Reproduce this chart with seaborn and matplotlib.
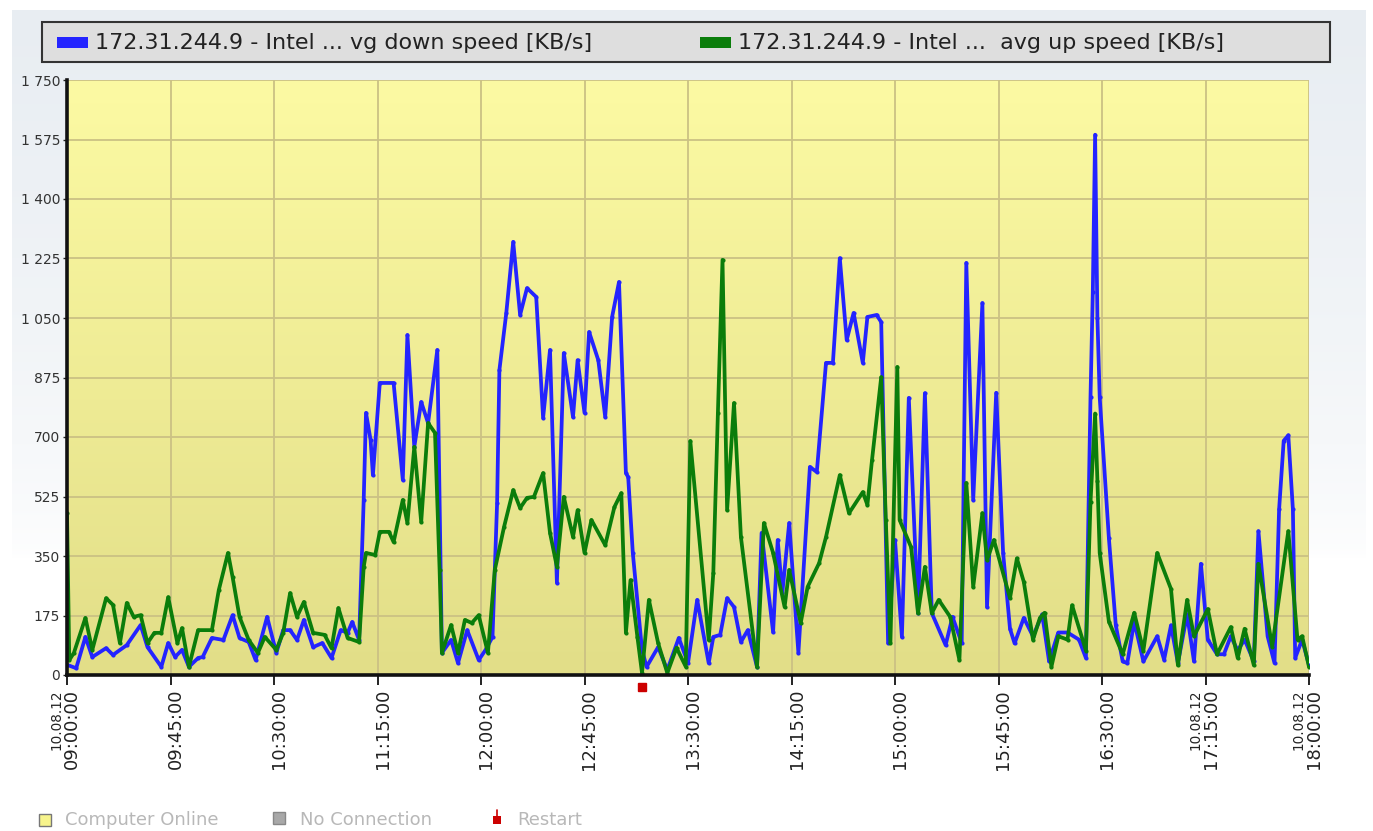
import numpy as np
import pandas as pd
import seaborn as sns
import matplotlib.pyplot as plt
import matplotlib.transforms as mtransforms
from matplotlib.colors import LinearSegmentedColormap
from matplotlib.lines import Line2D
from matplotlib.patches import Rectangle

# minutes after 09:00 on 10.08.12, speed in KB/s
down_min = [0, 4, 8, 11, 17, 20, 26, 32, 35, 41, 44, 47, 50, 53, 57, 59, 63, 68, 72, 75,
            79, 82, 87, 91, 94, 97, 100, 103, 107, 111, 115, 119, 122, 124, 127, 129, 130, 132, 133, 136,
            142, 146, 148, 151, 154, 157, 161, 163, 167, 170, 174, 179, 182, 185, 187, 188, 191, 194, 197, 200,
            204, 207, 210, 213, 216, 220, 222, 225, 227, 231, 234, 237, 240, 243, 244, 246, 250, 252, 257, 261,
            266, 270, 274, 279, 281, 284, 287, 290, 293, 296, 300, 302, 307, 309, 311, 314, 318, 323, 326, 330,
            333, 336, 339, 342, 346, 348, 352, 354, 357, 360, 363, 366, 370, 373, 376, 382, 385, 389, 391, 394,
            398, 400, 404, 407, 410, 412, 416, 420, 424, 427, 431, 435, 440, 443, 445, 446, 447, 448, 449, 453,
            456, 459, 461, 464, 468, 474, 477, 480, 483, 487, 490, 493, 496, 500, 503, 506, 509, 512, 516, 518,
            522, 525, 527, 529, 531, 533, 534, 537, 540]
down_kbs = [30, 20, 112, 53, 79, 59, 88, 147, 82, 24, 94, 53, 74, 24, 50, 53, 109, 103, 176, 109,
            97, 44, 171, 65, 132, 132, 103, 162, 82, 94, 50, 132, 124, 156, 103, 515, 771, 691, 588, 859,
            859, 574, 1000, 671, 803, 741, 956, 65, 103, 35, 132, 44, 74, 112, 506, 897, 1065, 1274, 1059, 1138,
            1112, 756, 956, 271, 947, 759, 926, 771, 1009, 926, 759, 1053, 1156, 594, 582, 359, 74, 24, 82, 15,
            109, 35, 221, 35, 112, 118, 226, 200, 97, 132, 24, 418, 126, 397, 241, 447, 65, 612, 597, 918,
            918, 1226, 985, 1065, 918, 1053, 1059, 1038, 94, 397, 112, 815, 182, 829, 182, 88, 171, 94, 1212, 515,
            1094, 200, 830, 359, 136, 93, 168, 114, 178, 40, 125, 125, 104, 50, 817, 1126, 1589, 1051, 817, 402,
            146, 40, 35, 157, 40, 114, 45, 146, 35, 178, 40, 327, 104, 61, 61, 114, 72, 104, 40, 423,
            114, 35, 487, 689, 705, 487, 50, 104, 29]

up_min = [0, 1, 3, 8, 11, 17, 20, 23, 26, 29, 32, 35, 38, 41, 44, 48, 50, 53, 57, 63,
          66, 70, 72, 75, 79, 83, 86, 91, 94, 97, 100, 103, 107, 112, 115, 118, 122, 127, 129, 130,
          134, 136, 140, 142, 146, 148, 151, 154, 157, 160, 162, 163, 167, 170, 173, 176, 179, 183, 186, 190,
          194, 197, 200, 203, 207, 210, 213, 216, 220, 222, 225, 228, 234, 238, 241, 243, 245, 248, 250, 253,
          257, 261, 265, 269, 271, 279, 281, 283, 285, 287, 290, 293, 300, 303, 307, 312, 314, 319, 322, 327,
          330, 336, 340, 346, 348, 350, 354, 356, 358, 361, 362, 367, 370, 373, 376, 379, 384, 388, 391, 394,
          398, 400, 403, 410, 413, 416, 420, 423, 425, 428, 431, 435, 437, 443, 445, 447, 448, 449, 453, 459,
          464, 468, 474, 480, 483, 487, 490, 496, 500, 506, 509, 512, 516, 518, 524, 531, 535, 537, 540]
up_kbs = [476, 44, 65, 168, 74, 226, 206, 94, 212, 171, 176, 94, 124, 124, 229, 94, 138, 24, 132, 132,
          250, 359, 288, 171, 103, 65, 112, 74, 124, 241, 171, 215, 124, 118, 79, 197, 109, 97, 318, 359,
          353, 421, 421, 391, 515, 447, 671, 450, 741, 712, 309, 65, 147, 65, 162, 153, 176, 65, 309, 435,
          544, 491, 521, 524, 594, 418, 318, 524, 406, 485, 359, 456, 382, 494, 535, 124, 279, 112, 6, 221,
          94, 6, 80, 25, 688, 103, 300, 771, 1221, 485, 800, 406, 24, 447, 359, 200, 309, 153, 259, 329,
          406, 588, 476, 538, 500, 632, 876, 456, 94, 906, 456, 376, 182, 318, 182, 221, 171, 44, 565, 259,
          476, 338, 397, 226, 343, 274, 104, 168, 183, 24, 114, 104, 205, 72, 508, 769, 572, 359, 157, 61,
          183, 72, 359, 253, 29, 221, 114, 194, 61, 141, 50, 136, 29, 327, 83, 423, 104, 114, 24]

restart_min = [250]
tick_min = list(range(0, 541, 45))
dated_ticks = [0, 495, 540]
y_ticks = list(range(0, 1751, 175))
series_names = ["172.31.244.9 - Intel ... vg down speed [KB/s]",
                "172.31.244.9 - Intel ...  avg up speed [KB/s]"]
status_names = ["Computer Online", "No Connection", "Restart"]

sns.set_style("white")
plt.rcParams['font.family'] = ['DejaVu Sans']

start = pd.Timestamp("2012-08-10 09:00")
down = pd.DataFrame({"time": start + pd.to_timedelta(down_min, unit="m"), "kbs": down_kbs})
up = pd.DataFrame({"time": start + pd.to_timedelta(up_min, unit="m"), "kbs": up_kbs})

W, H = 1373, 831
fig = plt.figure(figsize=(W / 100, H / 100), dpi=100)

# light panel behind the chart, fading out downwards
bg = fig.add_axes([0, 0, 1, 1], zorder=-10)
panel = np.zeros((200, 1, 4))
panel[:, :, :3] = [0.91, 0.93, 0.95]
panel[:, 0, 3] = np.linspace(1, 0, 200) ** 0.6
bg.imshow(panel, extent=[12 / W, 1366 / W, 1 - 560 / H, 1 - 10 / H], aspect='auto')
bg.set_xlim(0, 1)
bg.set_ylim(0, 1)
bg.axis('off')

ax = fig.add_axes([67 / W, 156 / H, 1242 / W, 595 / H])
blue, green = '#2424ff', '#0b7d0b'
sns.lineplot(data=down, x="time", y="kbs", ax=ax, color=blue, lw=2.7,
             marker='o', markersize=3, markeredgewidth=0, zorder=3)
sns.lineplot(data=up, x="time", y="kbs", ax=ax, color=green, lw=2.7,
             marker='o', markersize=3, markeredgewidth=0, zorder=4)

cmap = LinearSegmentedColormap.from_list('plotbg', ['#fcfaa3', '#e2de88'])
ax.imshow(np.linspace(0, 1, 256).reshape(-1, 1), cmap=cmap, extent=[0, 1, 0, 1],
          transform=ax.transAxes, aspect='auto', zorder=0)

ax.set_xlim(start, start + pd.Timedelta(minutes=540))
ax.set_ylim(0, 1750)
ax.set_axisbelow(True)
ax.grid(True, color='#cbc184', lw=1.3, zorder=1)

tick_times = [start + pd.Timedelta(minutes=m) for m in tick_min]
ax.set_xticks(tick_times)
ax.set_xticklabels([t.strftime("%H:%M:%S") for t in tick_times], rotation=90,
                   fontsize=13, color='#222222')
ax.set_yticks(y_ticks)
ax.set_yticklabels([f"{v:,}".replace(",", " ") for v in y_ticks], fontsize=10, color='#333333')
ax.tick_params(axis='x', length=7, width=1.4, color='#222222', pad=3, bottom=True)
ax.tick_params(axis='y', length=3, width=1, color='#222222', pad=2, left=True)
shift = mtransforms.ScaledTranslation(5 / 100, 0, fig.dpi_scale_trans)
for lab in ax.get_xticklabels():
    lab.set_transform(lab.get_transform() + shift)

# date line left of some time labels
trans = mtransforms.blended_transform_factory(ax.transData, ax.transAxes)
date_shift = mtransforms.ScaledTranslation(-10 / 100, -15 / 100, fig.dpi_scale_trans)
for m, t in zip(tick_min, tick_times):
    if m in dated_ticks:
        ax.text(t, 0, t.strftime("%d.%m.%y"), rotation=90, fontsize=9.8, color='#222222',
                ha='center', va='top', transform=trans + date_shift, clip_on=False)

ax.set_xlabel("")
ax.set_ylabel("")
for side in ['top', 'right']:
    ax.spines[side].set_visible(False)
for side in ['left', 'bottom']:
    ax.spines[side].set_color('#111111')
    ax.spines[side].set_linewidth(2.6)
    ax.spines[side].set_zorder(5)

# restart markers under the time axis
restart_times = [start + pd.Timedelta(minutes=m) for m in restart_min]
ax.plot(restart_times, [-0.021] * len(restart_times), 's', color='#cc0000',
        markersize=5.5, transform=trans, clip_on=False)

# series legend box at the top
ft = fig.transFigure
fig.add_artist(Rectangle((42 / W, 1 - 62 / H), 1288 / W, 40 / H, transform=ft,
                         facecolor='#dedede', edgecolor='#333333', lw=1.5))
for x0, col, name in zip([57, 700], [blue, green], series_names):
    fig.add_artist(Rectangle((x0 / W, 1 - 48 / H), 31 / W, 11 / H, transform=ft,
                             facecolor=col, edgecolor='none'))
    fig.text((x0 + 38) / W, 1 - 43 / H, name, fontsize=16, color='#222222',
             va='center', ha='left')

# status legend at the bottom
sq = 12
fig.add_artist(Rectangle((39 / W, 1 - 826 / H), sq / W, sq / H, transform=ft,
                         facecolor='#f7f48c', edgecolor='#777777', lw=1))
fig.add_artist(Rectangle((273 / W, 1 - 824 / H), sq / W, sq / H, transform=ft,
                         facecolor='#a8a8a8', edgecolor='#888888', lw=1))
fig.add_artist(Rectangle((493 / W, 1 - 824 / H), 8 / W, 8 / H, transform=ft,
                         facecolor='#cc0000', edgecolor='none'))
fig.add_artist(Line2D([497 / W, 497 / W], [1 - 816 / H, 1 - 810 / H], transform=ft,
                      color='#cc0000', lw=1.2))
for x, name in zip([65, 300, 517], status_names):
    fig.text(x / W, 1 - 820 / H, name, fontsize=13, color='#b8b8b8', va='center', ha='left')

fig.savefig("out.png", dpi=100)
